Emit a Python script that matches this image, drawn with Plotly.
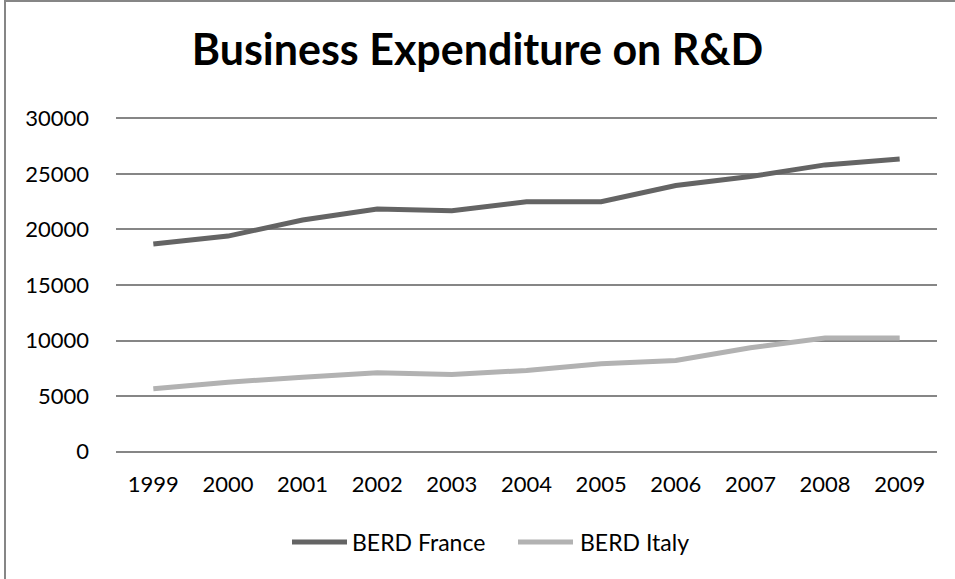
import plotly.graph_objects as go

years = ["1999", "2000", "2001", "2002", "2003", "2004", "2005", "2006", "2007", "2008", "2009"]
berd_france = [18680, 19400, 20850, 21840, 21690, 22500, 22500, 23950, 24760, 25810, 26350]
berd_italy = [5660, 6250, 6700, 7100, 6950, 7310, 7910, 8210, 9360, 10230, 10230]
y_ticks = [0, 5000, 10000, 15000, 20000, 25000, 30000]
y_ticktext = [str(v) for v in y_ticks]
series_names = ["BERD France", "BERD Italy"]
series_colors = ["#646464", "#b2b2b2"]

W, H = 955, 579
L, R, T, B = 116, 18, 115, 124
pw, ph = W - L - R, H - T - B

def px_x(x):
    return (x - L) / pw

def px_y(y):
    return ((H - B) - y) / ph

fig = go.Figure()
for name, vals, col in zip(series_names, [berd_france, berd_italy], series_colors):
    fig.add_trace(go.Scatter(x=years, y=vals, mode="lines", name=name,
                             line=dict(color=col, width=5), showlegend=False))

font_family = "Lato, 'Open Sans', sans-serif"
fig.update_layout(
    width=W, height=H,
    margin=dict(l=L, r=R, t=T, b=B, pad=0),
    paper_bgcolor="white", plot_bgcolor="white",
    font=dict(family=font_family, size=22, color="black"),
    title=dict(text="<b>Business Expenditure on R&D</b>", x=0.5, xanchor="center",
               y=1 - 50 / H, yanchor="middle",
               font=dict(family=font_family, size=43, color="black")),
    showlegend=False,
    xaxis=dict(type="category", range=[-0.5, 10.5], showgrid=False, zeroline=False,
               showline=False, ticks="", tickfont=dict(size=22), ticklabelstandoff=14),
    yaxis=dict(range=[-300, 30300], tickvals=y_ticks, ticktext=y_ticktext, showgrid=True,
               gridcolor="#868686", gridwidth=1.5, zeroline=False, showline=False, ticks="",
               tickfont=dict(size=22), ticklabelstandoff=26),
)

# chart border
fig.add_shape(type="rect", xref="paper", yref="paper",
              x0=px_x(5), x1=px_x(W + 10), y0=px_y(H + 10), y1=px_y(1),
              line=dict(color="#868686", width=2), fillcolor="rgba(0,0,0,0)", layer="below")

# legend (manual, to match long line samples)
legend_items = [(292, 347, 350), (518, 573, 578)]
for (x0, x1, tx), name, col in zip(legend_items, series_names, series_colors):
    fig.add_shape(type="line", xref="paper", yref="paper",
                  x0=px_x(x0), x1=px_x(x1), y0=px_y(542), y1=px_y(542),
                  line=dict(color=col, width=5))
    fig.add_annotation(xref="paper", yref="paper", x=px_x(tx), y=px_y(542),
                       xanchor="left", yanchor="middle", text=name, showarrow=False,
                       font=dict(size=23, color="black"))

fig.write_html("out.html")
